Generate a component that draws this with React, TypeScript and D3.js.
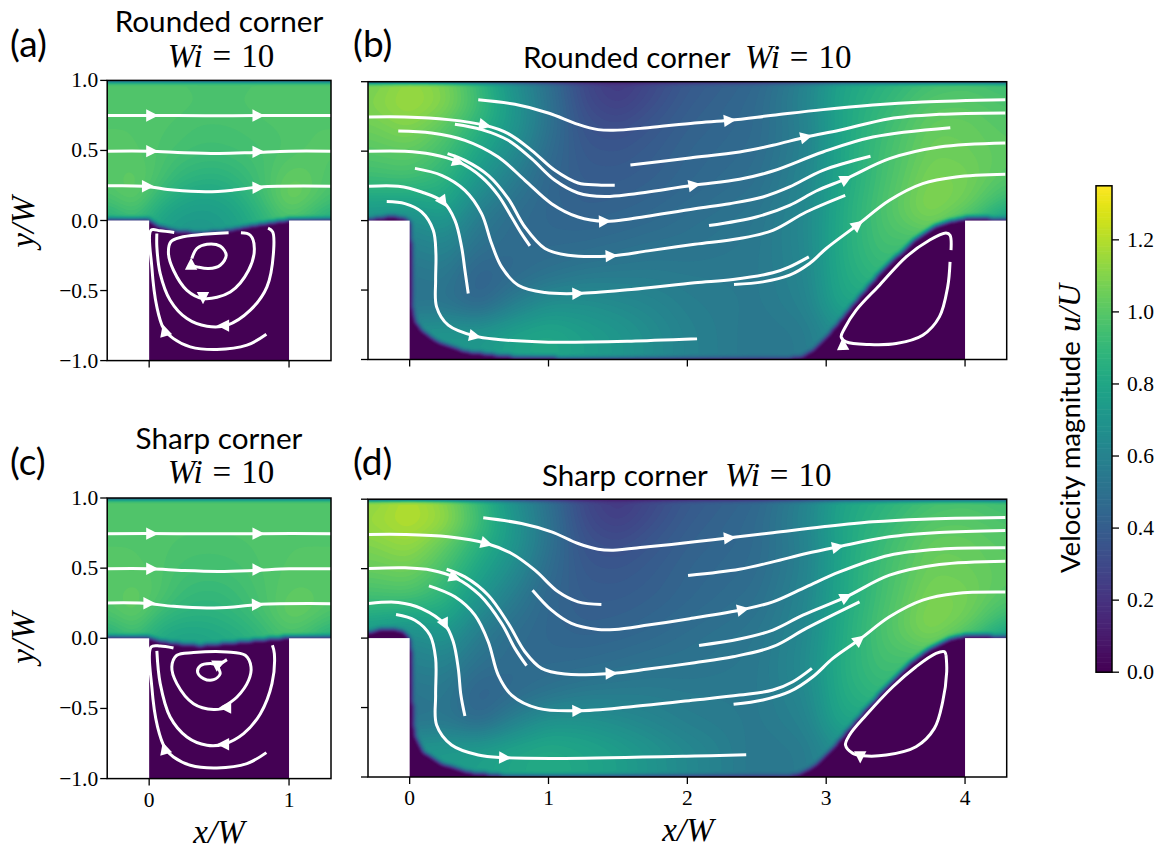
import React, { useMemo } from "react";
import * as d3 from "d3";

type Pt = number[];

// ---------- velocity field samples (u/U) ----------
const colsNarrow = [-0.3, -0.1, 0.05, 0.2, 0.35, 0.5, 0.65, 0.8, 1, 1.15, 1.3];
const rowsNarrow = [1, 0.85, 0.5, 0.3, 0.15, 0.05, -0.1];
const fieldA = [
  [0.98, 0.98, 0.98, 0.98, 0.97, 0.97, 0.97, 0.98, 0.98, 0.98, 0.98],
  [0.99, 0.99, 0.99, 0.99, 0.98, 0.98, 0.98, 0.99, 0.99, 0.99, 0.99],
  [1.0, 1.0, 0.98, 0.96, 0.94, 0.94, 0.95, 0.96, 0.98, 1.0, 1.0],
  [1.0, 1.03, 0.98, 0.9, 0.87, 0.86, 0.9, 0.95, 1.04, 1.02, 0.98],
  [0.97, 1.05, 0.9, 0.82, 0.78, 0.79, 0.84, 0.93, 1.08, 1.03, 0.95],
  [0.85, 0.95, 0.82, 0.76, 0.74, 0.75, 0.8, 0.88, 1.0, 0.93, 0.85],
  [0.8, 0.9, 0.78, 0.72, 0.72, 0.73, 0.78, 0.85, 0.95, 0.88, 0.8],
];
const fieldC = [
  [0.98, 0.98, 0.98, 0.98, 0.98, 0.98, 0.98, 0.98, 0.98, 0.98, 0.98],
  [0.99, 0.99, 0.99, 0.99, 0.99, 0.99, 0.99, 0.99, 0.99, 0.99, 0.99],
  [1.0, 1.0, 0.99, 0.96, 0.95, 0.95, 0.96, 0.98, 1.0, 1.0, 1.0],
  [1.0, 1.03, 1.0, 0.93, 0.9, 0.9, 0.93, 0.97, 1.02, 1.02, 1.0],
  [0.97, 1.05, 0.92, 0.87, 0.86, 0.87, 0.9, 0.95, 1.05, 1.03, 0.97],
  [0.85, 0.95, 0.84, 0.8, 0.8, 0.82, 0.85, 0.9, 0.98, 0.93, 0.85],
  [0.82, 0.92, 0.8, 0.78, 0.78, 0.8, 0.82, 0.88, 0.95, 0.9, 0.82],
];
const colsWide = [-0.3, 0, 0.25, 0.5, 0.75, 1, 1.25, 1.5, 1.75, 2, 2.5, 2.85, 3.1, 3.4, 3.75, 4, 4.3];
const rowsWide = [1, 0.85, 0.7, 0.5, 0.3, 0.1, 0, -0.2, -0.4, -0.6, -0.8, -1];
const fieldB = [
  [1.06, 1.14, 1.08, 0.9, 0.68, 0.5, 0.3, 0.22, 0.3, 0.38, 0.45, 0.6, 0.78, 0.86, 0.94, 0.96, 0.93],
  [1.1, 1.17, 1.12, 0.94, 0.72, 0.52, 0.32, 0.25, 0.33, 0.4, 0.47, 0.62, 0.8, 0.89, 1.0, 1.01, 0.97],
  [1.06, 1.12, 1.02, 0.88, 0.72, 0.52, 0.35, 0.32, 0.37, 0.42, 0.47, 0.6, 0.79, 0.92, 1.04, 1.04, 1.0],
  [1.0, 1.03, 0.95, 0.8, 0.66, 0.48, 0.38, 0.37, 0.4, 0.44, 0.48, 0.6, 0.8, 0.94, 1.06, 1.05, 1.02],
  [0.93, 0.95, 0.88, 0.72, 0.57, 0.45, 0.4, 0.4, 0.42, 0.45, 0.5, 0.62, 0.8, 0.95, 1.09, 1.08, 1.0],
  [0.76, 0.74, 0.8, 0.6, 0.5, 0.45, 0.42, 0.43, 0.45, 0.48, 0.53, 0.63, 0.82, 0.97, 1.12, 1.06, 0.88],
  [0.7, 0.66, 0.72, 0.56, 0.48, 0.45, 0.44, 0.45, 0.47, 0.5, 0.54, 0.64, 0.82, 0.97, 1.08, 0.95, 0.72],
  [0.6, 0.58, 0.62, 0.5, 0.47, 0.47, 0.48, 0.5, 0.52, 0.52, 0.55, 0.63, 0.83, 0.95, 0.92, 0.8, 0.6],
  [0.55, 0.53, 0.55, 0.42, 0.47, 0.52, 0.56, 0.57, 0.57, 0.56, 0.55, 0.62, 0.82, 0.9, 0.8, 0.7, 0.6],
  [0.55, 0.52, 0.52, 0.44, 0.58, 0.68, 0.68, 0.65, 0.62, 0.58, 0.55, 0.6, 0.8, 0.8, 0.7, 0.6, 0.6],
  [0.7, 0.7, 0.72, 0.72, 0.78, 0.81, 0.76, 0.72, 0.66, 0.6, 0.54, 0.56, 0.68, 0.6, 0.6, 0.6, 0.6],
  [0.7, 0.7, 0.72, 0.72, 0.78, 0.81, 0.76, 0.72, 0.66, 0.6, 0.54, 0.56, 0.68, 0.6, 0.6, 0.6, 0.6],
];
const fieldD = [
  [1.1, 1.2, 1.1, 0.9, 0.68, 0.5, 0.3, 0.22, 0.3, 0.38, 0.45, 0.6, 0.78, 0.86, 0.94, 0.96, 0.93],
  [1.16, 1.22, 1.16, 0.95, 0.72, 0.52, 0.32, 0.25, 0.33, 0.4, 0.47, 0.62, 0.8, 0.89, 1.0, 1.01, 0.97],
  [1.1, 1.16, 1.04, 0.88, 0.72, 0.52, 0.35, 0.32, 0.37, 0.42, 0.47, 0.6, 0.79, 0.92, 1.04, 1.04, 1.0],
  [1.04, 1.07, 0.96, 0.8, 0.66, 0.48, 0.38, 0.37, 0.4, 0.44, 0.48, 0.6, 0.8, 0.94, 1.06, 1.05, 1.02],
  [0.95, 0.97, 0.88, 0.72, 0.57, 0.45, 0.4, 0.4, 0.42, 0.45, 0.5, 0.62, 0.8, 0.95, 1.09, 1.08, 1.0],
  [0.78, 0.72, 0.78, 0.6, 0.5, 0.45, 0.42, 0.43, 0.45, 0.48, 0.53, 0.63, 0.82, 0.97, 1.12, 1.06, 0.88],
  [0.7, 0.64, 0.7, 0.56, 0.48, 0.45, 0.44, 0.45, 0.47, 0.5, 0.54, 0.64, 0.82, 0.97, 1.08, 0.95, 0.72],
  [0.6, 0.58, 0.6, 0.5, 0.47, 0.47, 0.48, 0.5, 0.52, 0.52, 0.55, 0.65, 0.84, 0.95, 0.92, 0.8, 0.6],
  [0.55, 0.53, 0.55, 0.42, 0.47, 0.52, 0.56, 0.57, 0.57, 0.56, 0.55, 0.63, 0.83, 0.9, 0.8, 0.7, 0.6],
  [0.55, 0.52, 0.54, 0.46, 0.6, 0.7, 0.7, 0.66, 0.62, 0.58, 0.55, 0.6, 0.8, 0.8, 0.7, 0.6, 0.6],
  [0.72, 0.72, 0.74, 0.76, 0.8, 0.83, 0.8, 0.76, 0.7, 0.64, 0.54, 0.56, 0.68, 0.6, 0.6, 0.6, 0.6],
  [0.72, 0.72, 0.74, 0.76, 0.8, 0.83, 0.8, 0.76, 0.7, 0.64, 0.54, 0.56, 0.68, 0.6, 0.6, 0.6, 0.6],
];

// ---------- stagnant (near-zero speed) outlines, in x/W, y/W ----------
const stagnantA: Pt[] = [[-0.6, 0.007], [0, 0.007], [0.055, -0.033], [0.174, -0.069], [0.365, -0.088], [0.556, -0.069], [0.747, -0.033], [0.938, -0.002], [1, 0.007], [1.6, 0.007], [1.6, -1.4], [-0.6, -1.4]];
const stagnantC: Pt[] = [[-0.6, 0.01], [0, 0.008], [0.055, -0.014], [0.174, -0.033], [0.365, -0.05], [0.556, -0.033], [0.747, -0.014], [0.938, 0.005], [1, 0.01], [1.6, 0.01], [1.6, -1.4], [-0.6, -1.4]];
const stagnantB: Pt[] = [[-0.6, 0.004], [-0.293, 0.007], [-0.225, 0.026], [-0.105, 0.031], [-0.02, 0.014], [0.012, -0.02], [0.018, -0.6], [0.04, -0.72], [0.09, -0.79], [0.2, -0.87], [0.4, -0.94], [0.7, -0.975], [1.2, -0.992], [2.5, -0.992], [2.81, -0.986], [2.9, -0.933], [3.0, -0.837], [3.1, -0.717], [3.216, -0.573], [3.36, -0.405], [3.504, -0.261], [3.647, -0.13], [3.79, -0.034], [3.91, 0.002], [4.012, 0.02], [4.125, 0.02], [4.29, 0.012], [4.6, 0.012], [4.6, -1.4], [-0.6, -1.4]];
const stagnantD: Pt[] = [[-0.6, 0.03], [-0.293, 0.041], [-0.225, 0.062], [-0.129, 0.07], [-0.046, 0.05], [-0.01, 0.015], [0.012, -0.02], [0.02, -0.41], [0.038, -0.7], [0.098, -0.818], [0.23, -0.902], [0.422, -0.962], [0.71, -0.993], [2.5, -0.994], [2.784, -0.986], [2.904, -0.926], [3.024, -0.818], [3.144, -0.674], [3.288, -0.506], [3.432, -0.35], [3.6, -0.182], [3.743, -0.074], [3.887, -0.002], [4.012, 0.022], [4.125, 0.022], [4.29, 0.01], [4.6, 0.01], [4.6, -1.4], [-0.6, -1.4]];
const topLayerY = 0.992;

// ---------- streamlines, in x/W, y/W ----------
const linesA: Pt[][] = [
  [[-0.3, 0.75], [0.2, 0.749], [0.5, 0.747], [0.8, 0.749], [1.3, 0.75]],
  [[-0.3, 0.495], [0, 0.495], [0.25, 0.484], [0.5, 0.479], [0.75, 0.486], [1, 0.495], [1.3, 0.495]],
  [[-0.3, 0.248], [-0.04, 0.245], [0.174, 0.217], [0.413, 0.205], [0.604, 0.217], [0.795, 0.24], [1.296, 0.245]],
  [[0.838, -0.812], [0.699, -0.89], [0.484, -0.921], [0.294, -0.902], [0.174, -0.843], [0.103, -0.771], [0.055, -0.617], [0.019, -0.331], [0.014, -0.069], [0.079, -0.074], [0.179, -0.086]],
  [[0.85, -0.055], [0.883, -0.081], [0.89, -0.212], [0.842, -0.474], [0.723, -0.64], [0.556, -0.748], [0.413, -0.755], [0.27, -0.7], [0.15, -0.569], [0.079, -0.379], [0.055, -0.188], [0.055, -0.093]],
  [[0.656, -0.088], [0.723, -0.105], [0.752, -0.2], [0.711, -0.355], [0.58, -0.51], [0.389, -0.557], [0.27, -0.498], [0.174, -0.355], [0.138, -0.236], [0.155, -0.152], [0.222, -0.121], [0.568, -0.088]],
  [[0.305, -0.271], [0.341, -0.2], [0.413, -0.169], [0.508, -0.183], [0.551, -0.248], [0.508, -0.319], [0.425, -0.343], [0.341, -0.331], [0.294, -0.319]],
];
const arrowsA: Pt[] = [[0.02, 0.75, 1, 0], [0.78, 0.749, 1, 0], [0.02, 0.495, 1, 0], [0.78, 0.49, 1, 0], [-0.01, 0.245, 1, 0], [0.78, 0.235, 1, 0.03], [0.11, -0.785, -0.3, 1], [0.53, -0.75, -1, 0], [0.385, -0.552, 0, -1], [0.3, -0.31, 0, 1]];

const linesC: Pt[][] = [
  [[-0.3, 0.746], [0.2, 0.746], [0.5, 0.745], [0.8, 0.746], [1.3, 0.746]],
  [[-0.3, 0.496], [0, 0.496], [0.25, 0.483], [0.5, 0.477], [0.75, 0.484], [1, 0.495], [1.3, 0.496]],
  [[-0.3, 0.252], [-0.04, 0.25], [0.174, 0.228], [0.413, 0.216], [0.604, 0.223], [0.795, 0.242], [1.296, 0.247]],
  [[0.838, -0.815], [0.699, -0.893], [0.484, -0.924], [0.294, -0.905], [0.174, -0.846], [0.115, -0.786], [0.06, -0.632], [0.019, -0.347], [0.014, -0.062], [0.079, -0.055], [0.174, -0.069]],
  [[0.881, -0.05], [0.895, -0.109], [0.878, -0.323], [0.795, -0.537], [0.675, -0.679], [0.532, -0.755], [0.413, -0.762], [0.27, -0.703], [0.15, -0.561], [0.079, -0.323], [0.055, -0.09]],
  [[0.58, -0.489], [0.461, -0.508], [0.317, -0.466], [0.198, -0.323], [0.162, -0.204], [0.198, -0.121], [0.317, -0.102], [0.556, -0.097], [0.687, -0.121], [0.728, -0.204], [0.711, -0.299], [0.628, -0.418], [0.52, -0.494]],
  [[0.556, -0.152], [0.496, -0.204], [0.508, -0.252], [0.461, -0.295], [0.389, -0.287], [0.346, -0.24], [0.365, -0.197], [0.437, -0.18], [0.496, -0.192]],
];
const arrowsC: Pt[] = [[0.02, 0.746, 1, 0], [0.78, 0.746, 1, 0], [0.02, 0.496, 1, 0], [0.78, 0.49, 1, 0], [0, 0.25, 1, 0], [0.776, 0.24, 1, 0.03], [0.11, -0.785, -0.3, 1], [0.53, -0.755, -1, 0], [0.545, -0.494, -1, 0], [0.5, -0.18, 1, 0.5]];

const linesB: Pt[][] = [
  [[0.494, 0.87], [0.758, 0.837], [0.998, 0.775], [1.213, 0.693], [1.357, 0.655], [1.465, 0.65], [1.717, 0.669], [2.053, 0.703], [2.305, 0.722], [2.616, 0.758], [2.976, 0.799], [3.336, 0.832], [3.695, 0.854], [4.29, 0.87]],
  [[-0.293, 0.746], [-0.034, 0.746], [0.278, 0.727], [0.542, 0.686], [0.71, 0.626], [0.878, 0.506], [1.046, 0.362], [1.213, 0.271], [1.357, 0.257], [1.477, 0.254]],
  [[0.326, 0.693], [0.518, 0.655], [0.71, 0.578], [0.878, 0.446], [1.046, 0.29], [1.213, 0.199], [1.405, 0.173], [1.597, 0.189], [2.041, 0.254], [2.376, 0.297], [2.616, 0.357], [2.976, 0.494], [3.336, 0.602], [3.894, 0.669]],
  [[1.59, 0.4], [2.017, 0.451], [2.376, 0.494], [2.616, 0.542], [2.856, 0.602], [3.096, 0.65], [3.456, 0.734], [3.815, 0.765], [4.29, 0.775]],
  [[-0.082, 0.645], [0.158, 0.631], [0.398, 0.578], [0.638, 0.458], [0.83, 0.29], [1.022, 0.122], [1.213, 0.026], [1.405, -0.005], [1.597, 0.014], [2.053, 0.086], [2.305, 0.122], [2.544, 0.17], [2.736, 0.242], [2.976, 0.362], [3.319, 0.463]],
  [[-0.293, 0.499], [-0.034, 0.499], [0.158, 0.477], [0.35, 0.422], [0.518, 0.314], [0.638, 0.182], [0.734, 0.026], [0.806, -0.094], [0.866, -0.182]],
  [[0.273, 0.482], [0.398, 0.434], [0.566, 0.326], [0.71, 0.158], [0.83, -0.046], [0.974, -0.201], [1.141, -0.249], [1.453, -0.254], [1.717, -0.218], [2.053, -0.17], [2.376, -0.129], [2.616, -0.07], [2.856, 0.062], [3.137, 0.182]],
  [[0.038, 0.376], [0.23, 0.326], [0.398, 0.218], [0.518, 0.05], [0.59, -0.165], [0.662, -0.333], [0.782, -0.465], [0.974, -0.518], [1.213, -0.525], [1.597, -0.496], [2.053, -0.448], [2.329, -0.424], [2.616, -0.376], [2.736, -0.333], [2.875, -0.261]],
  [[2.336, -0.46], [2.544, -0.441], [2.736, -0.393], [2.88, -0.309], [3.0, -0.201], [3.228, -0.029], [3.456, 0.146], [3.695, 0.266], [3.935, 0.314], [4.29, 0.333]],
  [[2.156, -0.036], [2.496, 0.026], [2.736, 0.11], [2.928, 0.213], [3.144, 0.302], [3.456, 0.446], [3.815, 0.53], [4.29, 0.559]],
  [[-0.293, 0.247], [-0.082, 0.247], [0.086, 0.206], [0.242, 0.134], [0.326, 0.002], [0.374, -0.189], [0.398, -0.357], [0.422, -0.525]],
  [[-0.165, 0.137], [-0.034, 0.122], [0.086, 0.062], [0.17, -0.07], [0.189, -0.237], [0.187, -0.429], [0.194, -0.621], [0.278, -0.753], [0.47, -0.832], [0.638, -0.856], [0.998, -0.875], [1.597, -0.868], [2.07, -0.851]],
  [[3.892, -0.297], [3.875, -0.477], [3.815, -0.693], [3.695, -0.825], [3.504, -0.885], [3.312, -0.892], [3.144, -0.873], [3.108, -0.837], [3.132, -0.777], [3.216, -0.645], [3.384, -0.465], [3.576, -0.261], [3.743, -0.141], [3.863, -0.089], [3.892, -0.106], [3.899, -0.213]],
];
const arrowsB: Pt[] = [[2.305, 0.722, 1, 0.1], [0.542, 0.686, 1, -0.2], [2.05, 0.255, 1, 0.17], [2.856, 0.602, 1, 0.24], [1.405, -0.005, 1, 0.04], [0.35, 0.422, 1, -0.35], [1.453, -0.254, 1, 0.05], [1.213, -0.525, 1, 0.03], [3.228, -0.029, 1, 0.8], [3.144, 0.3, 1, 0.5], [0.242, 0.134, 0.7, -1], [0.47, -0.832, 1, -0.2], [3.12, -0.89, -0.05, 1]];

const linesD: Pt[][] = [
  [[0.53, 0.866], [0.806, 0.825], [1.022, 0.765], [1.213, 0.681], [1.357, 0.64], [1.465, 0.633], [1.717, 0.657], [2.053, 0.693], [2.305, 0.722], [2.616, 0.758], [2.976, 0.801], [3.336, 0.837], [3.695, 0.856], [4.29, 0.868]],
  [[-0.293, 0.746], [-0.034, 0.746], [0.278, 0.729], [0.554, 0.681], [0.734, 0.609], [0.902, 0.489], [1.07, 0.333], [1.213, 0.261], [1.381, 0.242]],
  [[0.885, 0.345], [1.022, 0.201], [1.165, 0.106], [1.357, 0.062], [1.477, 0.062], [1.717, 0.094], [2.017, 0.14], [2.4, 0.206], [2.616, 0.261], [2.856, 0.369], [3.096, 0.477], [3.456, 0.597], [3.815, 0.64], [4.29, 0.65]],
  [[2.005, 0.451], [2.376, 0.496], [2.616, 0.549], [2.856, 0.609], [3.084, 0.657], [3.456, 0.729], [3.815, 0.76], [4.29, 0.775]],
  [[-0.293, 0.501], [-0.034, 0.506], [0.158, 0.489], [0.326, 0.436], [0.506, 0.309], [0.662, 0.106], [0.758, -0.074], [0.842, -0.199]],
  [[0.266, 0.496], [0.398, 0.441], [0.566, 0.309], [0.71, 0.106], [0.83, -0.098], [0.95, -0.218], [1.118, -0.259], [1.453, -0.254], [1.717, -0.223], [2.053, -0.177], [2.329, -0.134], [2.616, -0.062], [2.856, 0.07], [3.24, 0.261]],
  [[2.084, -0.053], [2.376, -0.007], [2.616, 0.058], [2.832, 0.165], [3.144, 0.297], [3.456, 0.453], [3.815, 0.53], [4.29, 0.554]],
  [[0.139, 0.376], [0.326, 0.297], [0.47, 0.165], [0.566, -0.026], [0.638, -0.266], [0.734, -0.41], [0.926, -0.506], [1.213, -0.523], [1.597, -0.494], [2.053, -0.446], [2.376, -0.41], [2.616, -0.374], [2.76, -0.314], [2.897, -0.218]],
  [[2.333, -0.477], [2.544, -0.446], [2.736, -0.386], [2.904, -0.278], [3.048, -0.146], [3.24, -0.01], [3.456, 0.153], [3.695, 0.273], [3.935, 0.321], [4.29, 0.331]],
  [[-0.293, 0.249], [-0.082, 0.257], [0.086, 0.213], [0.254, 0.098], [0.314, -0.026], [0.35, -0.218], [0.369, -0.41], [0.398, -0.561]],
  [[-0.098, 0.17], [0.038, 0.129], [0.146, 0.022], [0.187, -0.146], [0.187, -0.41], [0.194, -0.626], [0.302, -0.77], [0.494, -0.842], [0.686, -0.861], [1.118, -0.866], [2.053, -0.849], [2.424, -0.839]],
  [[3.863, -0.122], [3.851, -0.098], [3.791, -0.11], [3.647, -0.206], [3.48, -0.35], [3.288, -0.554], [3.168, -0.698], [3.139, -0.77], [3.192, -0.83], [3.264, -0.847], [3.432, -0.842], [3.647, -0.782], [3.779, -0.65], [3.839, -0.458], [3.868, -0.242], [3.863, -0.122]],
];
const arrowsD: Pt[] = [[2.305, 0.722, 1, 0.1], [0.554, 0.681, 1, -0.28], [2.4, 0.206, 1, 0.2], [3.084, 0.657, 1, 0.2], [0.326, 0.436, 1, -0.35], [1.453, -0.254, 1, 0.03], [3.144, 0.297, 1, 0.5], [1.213, -0.523, 1, 0.03], [3.24, -0.01, 1, 0.8], [0.254, 0.098, 0.5, -1], [0.686, -0.861, 1, -0.03], [3.245, -0.856, 0, -1]];

// ---------- ticks ----------
const yTicks = [1, 0.5, 0, -0.5, -1];
const xTicksNarrow = [0, 1];
const xTicksWide = [0, 1, 2, 3, 4];
const barTicks = [0, 0.2, 0.4, 0.6, 0.8, 1.0, 1.2];
const barMax = 1.35;

const SERIF = "'Liberation Serif', serif";
const SANS = "Lato, 'Open Sans', sans-serif";
const STEP = 1.5;

interface PanelSpec {
  key: string; letter: string;
  box: [number, number, number, number]; // left right top bottom
  xDomain: [number, number]; walls: [number, number];
  xTicks: number[]; showX: boolean; showY: boolean;
  cols: number[]; rows: number[]; field: number[][]; stagnant: Pt[];
  lines: Pt[][]; arrows: Pt[];
}

const panels: PanelSpec[] = [
  { key: "a", letter: "(a)", box: [107.2, 331, 80.4, 360.6], xDomain: [-0.3, 1.3], walls: [0, 1], xTicks: xTicksNarrow, showX: false, showY: true, cols: colsNarrow, rows: rowsNarrow, field: fieldA, stagnant: stagnantA, lines: linesA, arrows: arrowsA },
  { key: "b", letter: "(b)", box: [368, 1006.7, 81.7, 359.5], xDomain: [-0.3, 4.3], walls: [0, 4], xTicks: xTicksWide, showX: false, showY: false, cols: colsWide, rows: rowsWide, field: fieldB, stagnant: stagnantB, lines: linesB, arrows: arrowsB },
  { key: "c", letter: "(c)", box: [107.2, 331, 498, 778.6], xDomain: [-0.3, 1.3], walls: [0, 1], xTicks: xTicksNarrow, showX: true, showY: true, cols: colsNarrow, rows: rowsNarrow, field: fieldC, stagnant: stagnantC, lines: linesC, arrows: arrowsC },
  { key: "d", letter: "(d)", box: [368, 1006.7, 499.2, 777], xDomain: [-0.3, 4.3], walls: [0, 4], xTicks: xTicksWide, showX: true, showY: false, cols: colsWide, rows: rowsWide, field: fieldD, stagnant: stagnantD, lines: linesD, arrows: arrowsD },
];

function sample(cols: number[], rows: number[], field: number[][], x: number, y: number) {
  const cx = Math.max(0, Math.min(cols.length - 2, d3.bisectRight(cols, x) - 1));
  let ry = 0;
  while (ry < rows.length - 2 && y < rows[ry + 1]) ry++;
  const tx = Math.max(0, Math.min(1, (x - cols[cx]) / (cols[cx + 1] - cols[cx])));
  const ty = Math.max(0, Math.min(1, (rows[ry] - y) / (rows[ry] - rows[ry + 1])));
  const a = field[ry][cx] * (1 - tx) + field[ry][cx + 1] * tx;
  const b = field[ry + 1][cx] * (1 - tx) + field[ry + 1][cx + 1] * tx;
  return a * (1 - ty) + b * ty;
}

function Panel({ p }: { p: PanelSpec }) {
  const [left, right, top, bottom] = p.box;
  const x = d3.scaleLinear().domain(p.xDomain).range([left, right]);
  const y = d3.scaleLinear().domain([-1, 1]).range([bottom, top]);

  const bands = useMemo(() => {
    const pad = 3;
    const w = Math.ceil((right - left) / STEP) + 2 * pad + 1;
    const h = Math.ceil((bottom - top) / STEP) + 2 * pad + 1;
    const base = new Float64Array(w * h);
    const mask = new Float64Array(w * h);
    const poly = p.stagnant.map(([a, b]) => [x(a), y(b)] as [number, number]);
    const topPx = y(topLayerY);
    for (let j = 0; j < h; j++) {
      const py = top + (j - pad) * STEP;
      for (let i = 0; i < w; i++) {
        const px = left + (i - pad) * STEP;
        base[j * w + i] = sample(p.cols, p.rows, p.field, x.invert(px), y.invert(py));
        mask[j * w + i] = py < topPx || d3.polygonContains(poly, [px, py]) ? 0 : 1;
      }
    }
    d3.blur2({ data: base, width: w, height: h }, 6);
    d3.blur2({ data: mask, width: w, height: h }, 1);
    const values = Array.from(base, (v, k) => v * mask[k]);
    const thresholds = d3.range(1, 81).map((k) => (k / 80) * barMax);
    const contours = d3.contours().size([w, h]).thresholds(thresholds)(values);
    const path = d3.geoPath(
      d3.geoTransform({
        point(a: number, b: number) {
          (this as any).stream.point(
            Math.round((left + (a - 0.5 - pad) * STEP) * 10) / 10,
            Math.round((top + (b - 0.5 - pad) * STEP) * 10) / 10
          );
        },
      })
    );
    return contours
      .filter((c) => c.coordinates.length > 0)
      .map((c) => ({ d: path(c) as string, fill: d3.interpolateViridis(c.value / barMax), v: c.value }));
  }, [p.key]);

  const line = d3.line<Pt>().x((d) => x(d[0])).y((d) => y(d[1])).curve(d3.curveCatmullRom.alpha(0.5));
  const clipId = `clip-${p.key}`;

  return (
    <g>
      <defs>
        <clipPath id={clipId}>
          <rect x={left} y={top} width={right - left} height={bottom - top} />
        </clipPath>
      </defs>
      <g clipPath={`url(#${clipId})`}>
        <rect x={left} y={top} width={right - left} height={bottom - top} fill="#440154" />
        {bands.map((b) => (
          <path key={b.v} d={b.d} fill={b.fill} />
        ))}
        <rect x={left} y={y(0)} width={x(p.walls[0]) - left} height={bottom - y(0)} fill="#fff" />
        <rect x={x(p.walls[1])} y={y(0)} width={right - x(p.walls[1])} height={bottom - y(0)} fill="#fff" />
        {p.lines.map((l, i) => (
          <path key={i} d={line(l) as string} fill="none" stroke="#fff" strokeWidth={3} strokeLinecap="butt" />
        ))}
        {p.arrows.map((a, i) => {
          const deg = (Math.atan2(-a[3], a[2]) * 180) / Math.PI;
          return (
            <path key={i} d="M6.4,0L-5.8,-6.2L-5.8,6.2Z" fill="#fff" transform={`translate(${x(a[0])},${y(a[1])}) rotate(${deg})`} />
          );
        })}
      </g>
      <rect x={left} y={top} width={right - left} height={bottom - top} fill="none" stroke="#000" strokeWidth={1.5} />
      {yTicks.map((t) => (
        <g key={t}>
          <line x1={left - 7} x2={left} y1={y(t)} y2={y(t)} stroke="#000" strokeWidth={1.3} />
          {p.showY && (
            <text x={left - 9} y={y(t) + 7} textAnchor="end" fontFamily={SERIF} fontSize={21.5}>
              {t < 0 ? "\u2212" : ""}{Math.abs(t).toFixed(1)}
            </text>
          )}
        </g>
      ))}
      {p.xTicks.map((t) => (
        <g key={t}>
          <line x1={x(t)} x2={x(t)} y1={bottom} y2={bottom + 7} stroke="#000" strokeWidth={1.3} />
          {p.showX && (
            <text x={x(t)} y={bottom + 28} textAnchor="middle" fontFamily={SERIF} fontSize={21.5}>
              {t}
            </text>
          )}
        </g>
      ))}
    </g>
  );
}

function WiText({ x, y, anchor }: { x: number; y: number; anchor: string }) {
  return (
    <text x={x} y={y} textAnchor={anchor} fontFamily={SERIF} fontSize={33}>
      <tspan fontStyle="italic">Wi</tspan>
      <tspan dx={10}>=</tspan>
      <tspan dx={10}>10</tspan>
    </text>
  );
}

function Sans({ x, y, size, anchor, children }: any) {
  return (
    <text x={x} y={y} textAnchor={anchor} fontFamily={SANS} fontSize={size}>
      {children}
    </text>
  );
}

export default function App() {
  const barY = d3.scaleLinear().domain([0, barMax]).range([672.2, 185.8]);
  const barValues = d3.range(0, 200).map((k) => (k / 200) * barMax);
  return (
    <svg width={1159} height={852} style={{ position: "absolute", left: 0, top: 0, display: "block" }}>
      <rect width={1159} height={852} fill="#fff" />
      {panels.map((p) => (
        <Panel key={p.key} p={p} />
      ))}

      <Sans x={10} y={57} size={37}>(a)</Sans>
      <Sans x={353} y={57} size={37}>(b)</Sans>
      <Sans x={10} y={475} size={37}>(c)</Sans>
      <Sans x={353} y={475} size={37}>(d)</Sans>

      <Sans x={219} y={32} size={29.7} anchor="middle">Rounded corner</Sans>
      <WiText x={221} y={67} anchor="middle" />
      <Sans x={219} y={449} size={29.7} anchor="middle">Sharp corner</Sans>
      <WiText x={221} y={483} anchor="middle" />
      <Sans x={523} y={68} size={29.5}>Rounded corner</Sans>
      <WiText x={745} y={68} anchor="start" />
      <Sans x={542} y={486} size={29.5}>Sharp corner</Sans>
      <WiText x={725} y={486} anchor="start" />

      <text transform="translate(34,222) rotate(-90)" textAnchor="middle" fontFamily={SERIF} fontStyle="italic" fontSize={33}>y/W</text>
      <text transform="translate(34,638) rotate(-90)" textAnchor="middle" fontFamily={SERIF} fontStyle="italic" fontSize={33}>y/W</text>
      <text x={219} y={843} textAnchor="middle" fontFamily={SERIF} fontStyle="italic" fontSize={33}>x/W</text>
      <text x={688} y={841} textAnchor="middle" fontFamily={SERIF} fontStyle="italic" fontSize={33}>x/W</text>

      {barValues.map((v) => (
        <rect key={v} x={1096} width={16} y={barY(v + barMax / 200) - 0.3} height={barY(v) - barY(v + barMax / 200) + 0.6} fill={d3.interpolateViridis(v / barMax)} />
      ))}
      <rect x={1096} y={185.8} width={16} height={486.4} fill="none" stroke="#000" strokeWidth={1.5} />
      {barTicks.map((t) => (
        <g key={t}>
          <line x1={1112} x2={1119} y1={barY(t)} y2={barY(t)} stroke="#000" strokeWidth={1.3} />
          <text x={1127} y={barY(t) + 7} fontFamily={SERIF} fontSize={21.5}>{t.toFixed(1)}</text>
        </g>
      ))}
      <text transform="translate(1080,573) rotate(-90)" fontFamily={SANS} fontSize={27.6}>Velocity magnitude</text>
      <text transform="translate(1080,332) rotate(-90)" fontFamily={SERIF} fontStyle="italic" fontSize={32}>u/U</text>
    </svg>
  );
}
